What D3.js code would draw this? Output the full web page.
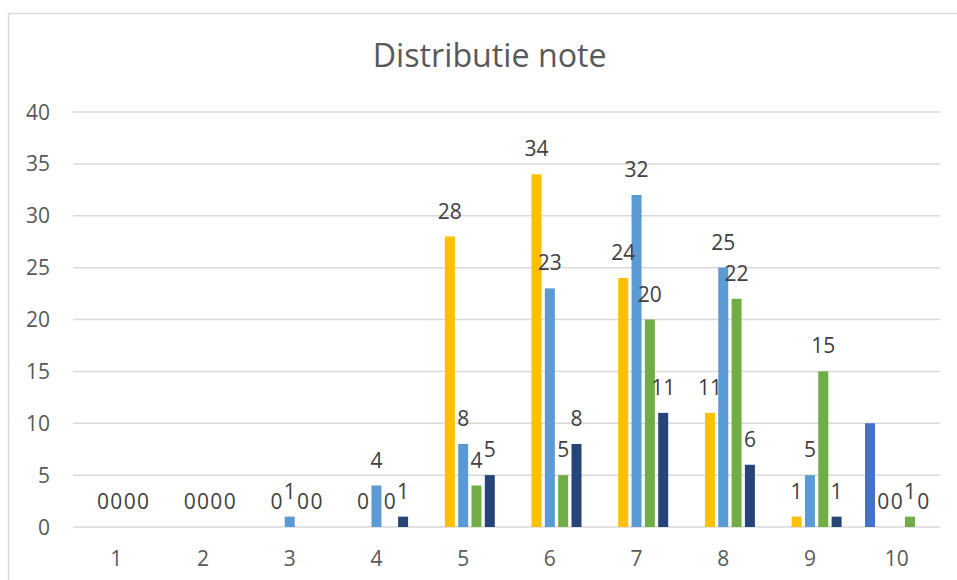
<!DOCTYPE html>
<html>
<head>
<meta charset="utf-8">
<script src="https://cdn.jsdelivr.net/npm/d3@7/dist/d3.min.js"></script>
<style>
  html, body { margin: 0; padding: 0; background: #ffffff; }
  svg { display: block; font-family: "Open Sans", "Noto Sans", sans-serif; }
</style>
</head>
<body>
<svg id="chart" width="957" height="580"></svg>
<script>
const title = "Distributie note";
const categories = ["1", "2", "3", "4", "5", "6", "7", "8", "9", "10"];
const yTicks = [0, 5, 10, 15, 20, 25, 30, 35, 40];
// series in bar order within each group
const seriesNames = ["S0", "S1", "S2", "S3", "S4"];
const s0 = [null, null, null, null, null, null, null, null, null, 10];
const s1 = [0, 0, 0, 0, 28, 34, 24, 11, 1, 0];
const s2 = [0, 0, 1, 4, 8, 23, 32, 25, 5, 0];
const s3 = [0, 0, 0, 0, 4, 5, 20, 22, 15, 1];
const s4 = [0, 0, 0, 1, 5, 8, 11, 6, 1, 0];
const seriesColors = ["#4472C4", "#FFC000", "#5B9BD5", "#70AD47", "#264478"];
const seriesLabeled = [false, true, true, true, true];

const seriesValues = [s0, s1, s2, s3, s4];

const svg = d3.select("#chart");
const textColor = "#595959";
const gridColor = "#d9d9d9";

// chart border
svg.append("rect")
  .attr("x", 8.5).attr("y", 13.5)
  .attr("width", 1200).attr("height", 1200)
  .attr("fill", "none").attr("stroke", gridColor).attr("stroke-width", 1.5);

const plot = { left: 73, right: 940, top: 112, bottom: 527 };

const y = d3.scaleLinear().domain([0, 40]).range([plot.bottom, plot.top]);
const x0 = d3.scaleBand().domain(categories).range([plot.left, plot.right]).paddingInner(0).paddingOuter(0);
const groupW = 63.3;
const x1 = d3.scaleBand().domain(seriesNames)
  .range([(x0.bandwidth() - groupW) / 2, (x0.bandwidth() + groupW) / 2])
  .paddingInner(0.25).paddingOuter(0);

// gridlines
svg.append("g").selectAll("line").data(yTicks).join("line")
  .attr("x1", plot.left).attr("x2", plot.right)
  .attr("y1", d => y(d)).attr("y2", d => y(d))
  .attr("stroke", gridColor).attr("stroke-width", 1.5);

// y tick labels
svg.append("g").selectAll("text").data(yTicks).join("text")
  .attr("x", 50).attr("y", d => y(d)).attr("dy", "0.36em")
  .attr("text-anchor", "end")
  .attr("font-size", 21).attr("fill", textColor)
  .text(d => d);

// x tick labels
svg.append("g").selectAll("text").data(categories).join("text")
  .attr("x", d => x0(d) + x0.bandwidth() / 2).attr("y", 566)
  .attr("text-anchor", "middle")
  .attr("font-size", 21).attr("fill", textColor)
  .text(d => d);

// bars
const barData = [];
seriesValues.forEach((vals, si) => {
  vals.forEach((v, ci) => {
    if (v !== null) barData.push({ s: seriesNames[si], si, cat: categories[ci], v });
  });
});

svg.append("g").selectAll("rect").data(barData.filter(d => d.v > 0)).join("rect")
  .attr("x", d => x0(d.cat) + x1(d.s))
  .attr("y", d => y(d.v))
  .attr("width", x1.bandwidth())
  .attr("height", d => y(0) - y(d.v))
  .attr("fill", d => seriesColors[d.si]);

// data labels
svg.append("g").selectAll("text").data(barData.filter(d => seriesLabeled[d.si])).join("text")
  .attr("x", d => x0(d.cat) + x1(d.s) + x1.bandwidth() / 2)
  .attr("y", d => y(d.v) - 18)
  .attr("text-anchor", "middle")
  .attr("font-size", 21).attr("fill", "#404040")
  .text(d => d.v);

// title
const t = svg.append("text")
  .attr("x", 489.7).attr("y", 66.7)
  .attr("text-anchor", "middle")
  .attr("font-size", 30).attr("fill", textColor)
  .text(title);
const w = t.node().getComputedTextLength();
t.attr("font-size", 30 * 234 / w);
</script>
</body>
</html>
